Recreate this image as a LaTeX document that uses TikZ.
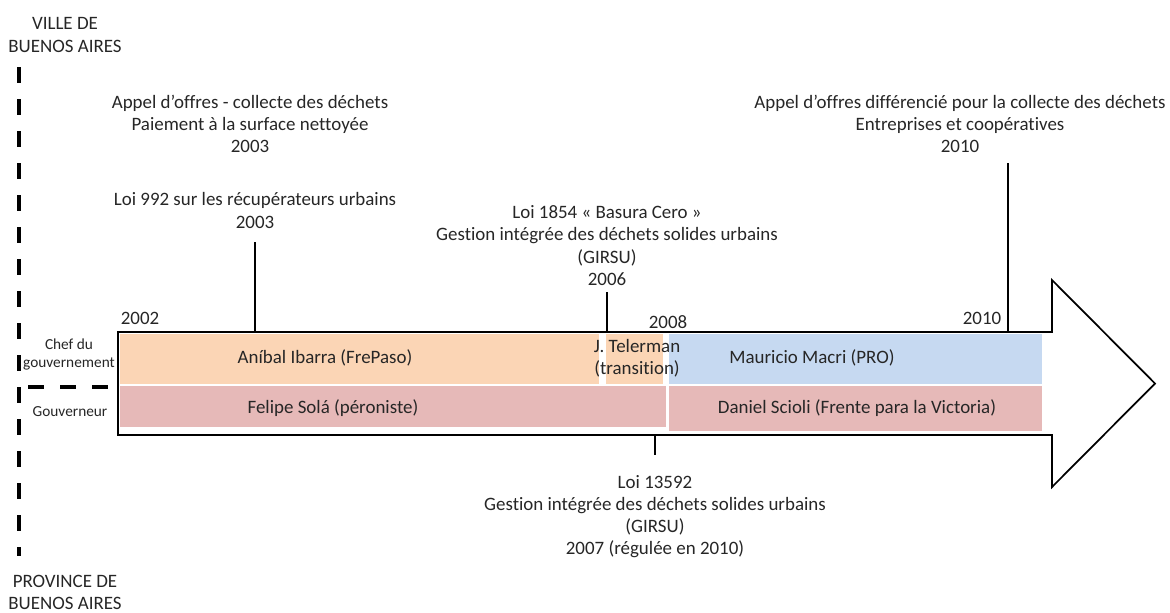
\documentclass[tikz,border=0pt]{standalone}
\usepackage{fontspec}
\setmainfont{Carlito}[Ligatures=NoCommon]
\definecolor{ibarra}{HTML}{FBD5B5}
\definecolor{macri}{HTML}{C6D9F1}
\definecolor{gouv}{HTML}{E6B9B8}
\definecolor{txt}{HTML}{262626}
\usetikzlibrary{positioning}

\begin{document}
\begin{tikzpicture}[x=0.75pt, y=-0.75pt,
  band/.style={rectangle, inner sep=0pt, outer sep=0pt},
  lbl/.style={font=\fontsize{14.2}{16.6}\selectfont, text=txt, align=center, inner sep=1pt},
  role/.style={font=\fontsize{11.5}{13.5}\selectfont, text=txt, align=center, inner sep=1pt},
  tick/.style={line width=1pt},
  sep/.style={line width=3pt, dash pattern=on 12pt off 12pt},
]
\useasboundingbox (0,0) rectangle (1170,612);

% arrow
\draw[line width=1.3pt, line join=miter] (118,332) -- (1052,332) -- (1052,280) -- (1155,383.5)
  -- (1052,487) -- (1052,435) -- (118,435) -- cycle;
\coordinate (arrtop) at (0,331);
\coordinate (arrbot) at (0,436);

% bands
\node[band, fill=ibarra, minimum width=0.75pt*479, minimum height=0.75pt*50] (ibarra) at (359.5,359) {};
\node[band, fill=ibarra, minimum width=0.75pt*57, minimum height=0.75pt*50] (teler) at (634.5,359) {};
\node[band, fill=macri, minimum width=0.75pt*373, minimum height=0.75pt*50] (macri) at (855.5,359) {};
\node[band, fill=gouv, minimum width=0.75pt*546, minimum height=0.75pt*41] (sola) at (393,406.5) {};
\node[band, fill=gouv, minimum width=0.75pt*373, minimum height=0.75pt*45] (scioli) at (855.5,408.5) {};

\node[lbl] at (325,358) {Aníbal Ibarra (FrePaso)};
\node[lbl] at (637,358) {J. Telerman\\(transition)};
\node[lbl] at (812,358) {Mauricio Macri (PRO)};
\node[lbl] at (333,408) {Felipe Solá (péroniste)};
\node[lbl] at (857,408) {Daniel Scioli (Frente para la Victoria)};

% years
\node[lbl] (y2002) at (140,318) {2002};
\node[lbl] (y2008) at (668,322) {2008};
\node[lbl] (y2010) at (982,318) {2010};

% separation ville / province
\node[lbl] (ville) at (65,35) {VILLE DE\\BUENOS AIRES};
\node[lbl] (prov) at (65,592) {PROVINCE DE\\BUENOS AIRES};
\coordinate (sa) at (19,67);
\coordinate (sb) at (19,556);
\draw[sep] (sa) -- (sb);
\coordinate (sc) at (28,387);
\draw[sep] (sc) -- (118,387);
\node[role] (chef) at (69,354) {Chef du\\gouvernement};
\node[role] (gouv) at (70,412) {Gouverneur};

% events
\node[lbl] (ao2003) at (250,124) {Appel d’offres - collecte des déchets\\Paiement à la surface nettoyée\\2003};
\node[lbl] (l992) at (255,210.5) {Loi 992 sur les récupérateurs urbains\\2003};
\node[lbl] (l1854) at (607,245.5) {Loi 1854 « Basura Cero »\\Gestion intégrée des déchets solides urbains\\(GIRSU)\\2006};
\node[lbl] (ao2010) at (960,124) {Appel d’offres différencié pour la collecte des déchets\\Entreprises et coopératives\\2010};
\node[lbl] (l13592) at (655,516.5) {Loi 13592\\Gestion intégrée des déchets solides urbains\\(GIRSU)\\2007 (régulée en 2010)};

\coordinate (k992) at (255,242);
\coordinate (k1854) at (607,292);
\coordinate (k2010) at (1008,163);
\coordinate (k13592) at (655,455);
\draw[tick] (k992) -- (k992 |- arrtop);
\draw[tick] (k1854) -- (k1854 |- arrtop);
\draw[tick] (k2010) -- (k2010 |- arrtop);
\draw[tick] (k13592 |- arrbot) -- (k13592);
\end{tikzpicture}
\end{document}
